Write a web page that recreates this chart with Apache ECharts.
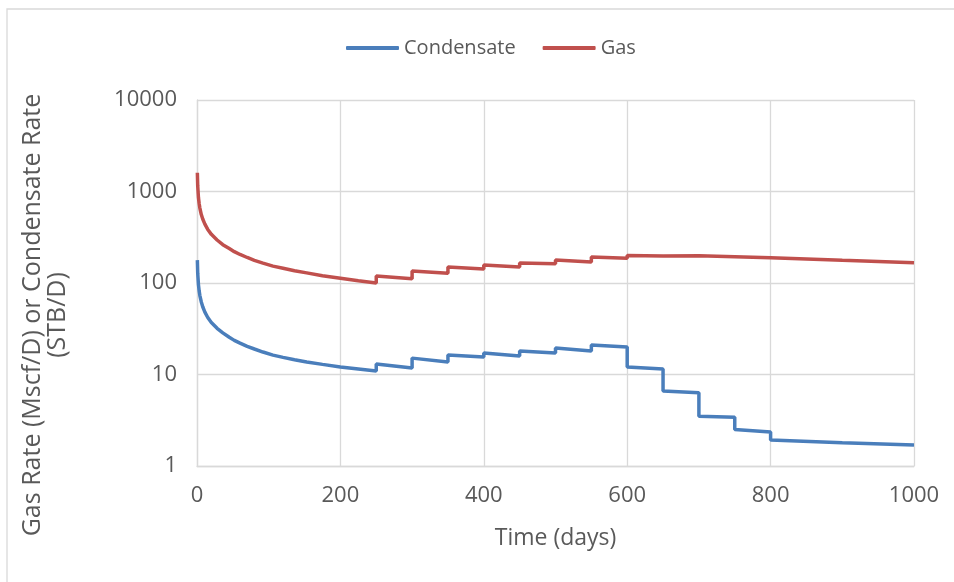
<!DOCTYPE html>
<html>
<head>
<meta charset="utf-8">
<script src="https://cdn.jsdelivr.net/npm/echarts@6/dist/echarts.min.js"></script>
<style>html,body{margin:0;padding:0;background:#fff}#c{width:954px;height:582px}</style>
</head>
<body>
<div id="c"></div>
<script>
// Time (days); a repeated day marks a step in rate
const days = [0.5, 1, 2, 3, 4, 6, 8, 11, 15, 20, 28, 36, 45, 52, 60, 70, 80, 92, 106, 120, 136, 153, 175, 200, 225,
  250, 250, 300, 300, 350, 350, 400, 400, 450, 450, 500, 500, 550, 550,
  600, 600, 650, 650, 700, 700, 750, 750, 800, 800, 900, 1000];
const gasRate = [1600, 1150, 860, 740, 660, 560, 500, 440, 385, 340, 295, 262, 238, 220, 205, 190, 177, 165, 153, 145, 136, 129, 120, 113, 106,
  100, 119, 111, 135, 128, 150, 142, 157, 150, 165, 162, 178, 170, 192,
  187, 200, 197, 202, 198, 199, 194, 195, 189, 189, 177, 166];
const condRate = [178, 128, 96, 82, 73, 62, 55, 48, 42, 37, 32, 28.5, 25.5, 23.6, 22, 20.3, 19, 17.6, 16.3, 15.4, 14.5, 13.7, 12.9, 12.1, 11.5,
  10.9, 13.0, 11.8, 15.1, 13.7, 16.3, 15.5, 17.2, 15.9, 18.1, 17.2, 19.5, 18.1, 21,
  20, 12.1, 11.5, 6.6, 6.3, 3.5, 3.4, 2.5, 2.35, 1.92, 1.8, 1.7];
const seriesNames = ['Condensate', 'Gas'];
const xTicks = [0, 200, 400, 600, 800, 1000];
const yTicks = [1, 10, 100, 1000, 10000];

const pair = (xs, ys) => xs.map((x, i) => [x, ys[i]]);
const txt = '#595959';
const font = 'Open Sans';

const chart = echarts.init(document.getElementById('c'), null, {renderer: 'canvas'});
chart.setOption({
  animation: false,
  backgroundColor: '#fff',
  textStyle: {fontFamily: font},
  graphic: [
    {type: 'rect', shape: {x: 7, y: 9, width: 1000, height: 700}, style: {fill: 'none', stroke: '#d9d9d9', lineWidth: 1.3}, silent: true},
    {type: 'text', x: 45, y: 315, rotation: Math.PI / 2,
      style: {text: 'Gas Rate (Mscf/D) or Condensate Rate\n(STB/D)', fill: txt, font: '25px "Open Sans"',
        align: 'center', verticalAlign: 'middle', lineHeight: 25}}
  ],
  legend: {
    data: seriesNames,
    left: 346, top: 38, padding: 0,
    itemWidth: 53, itemHeight: 4, itemGap: 27,
    icon: 'roundRect',
    textStyle: {color: txt, fontSize: 20, fontFamily: font}
  },
  grid: {left: 197, right: 40, top: 100, bottom: 116, containLabel: false},
  xAxis: {
    type: 'value', min: 0, max: 1000, interval: 200,
    name: 'Time (days)', nameLocation: 'middle', nameGap: 61,
    nameTextStyle: {color: txt, fontSize: 23, fontFamily: font},
    axisLine: {show: true, lineStyle: {color: '#d9d9d9', width: 1.3}},
    axisTick: {show: false},
    axisLabel: {color: txt, fontSize: 22, fontFamily: font, margin: 19,
      customValues: xTicks, formatter: v => String(v)},
    splitLine: {show: true, lineStyle: {color: '#d9d9d9', width: 1.3}}
  },
  yAxis: {
    type: 'log', logBase: 10, min: 1, max: 10000,
    axisLine: {show: true, lineStyle: {color: '#d9d9d9', width: 1.3}},
    axisTick: {show: false},
    axisLabel: {color: txt, fontSize: 22, fontFamily: font, margin: 20,
      formatter: v => String(Math.round(v))},
    splitLine: {show: true, lineStyle: {color: '#d9d9d9', width: 1.3}}
  },
  series: [
    {name: seriesNames[0], type: 'line', data: pair(days, condRate), symbol: 'none',
      lineStyle: {color: '#4a7ebb', width: 3.5}, itemStyle: {color: '#4a7ebb'}},
    {name: seriesNames[1], type: 'line', data: pair(days, gasRate), symbol: 'none',
      lineStyle: {color: '#c0504d', width: 3.5}, itemStyle: {color: '#c0504d'}}
  ]
});
</script>
</body>
</html>
